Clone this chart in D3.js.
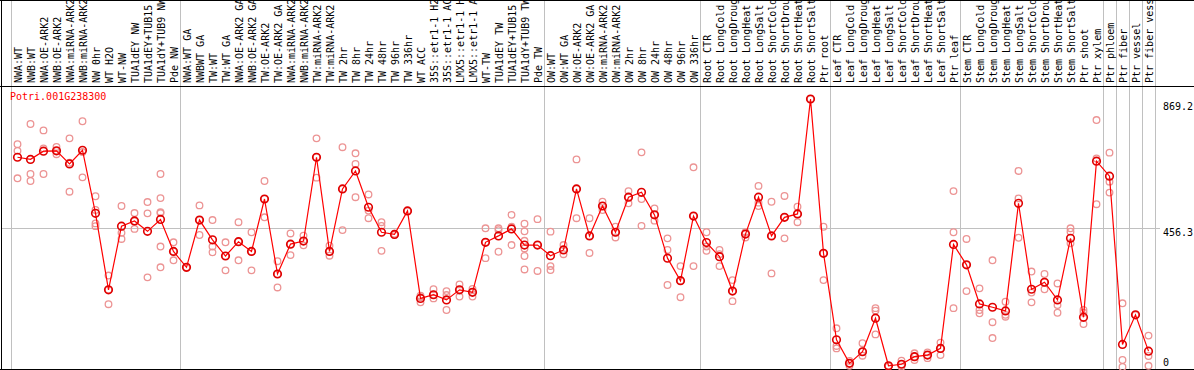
<!DOCTYPE html>
<html>
<head>
<meta charset="utf-8">
<script src="https://cdn.jsdelivr.net/npm/d3@7"></script>
<style>
html,body{margin:0;padding:0;background:#fff;}
svg{display:block;}
text{font-family:"DejaVu Sans Mono",monospace;font-size:10px;}
</style>
</head>
<body>
<svg id="chart" width="1194" height="370"></svg>
<script>
const title = "Potri.001G238300";
const categories = [
"NWA:WT","NWB:WT","NWA:OE-ARK2","NWB:OE-ARK2","NWA:miRNA-ARK2","NWB:miRNA-ARK2","NW 0hr","WT H2O","WT-NW","TUA1dEY NW","TUA1dEY+TUB15","TUA1dY+TUB9 NW","Pde NW",
"NWA:WT GA","NWBWT GA","TW:WT","TW:WT GA","NWA:OE-ARK2 GA","NWB:OE-ARK2 GA","TW:OE-ARK2","TW:OE-ARK2 GA","NWA:miRNA-ARK2 GA","NWB:miRNA-ARK2 GA","TW:miRNA-ARK2","TW:miRNA-ARK2 GA","TW 2hr","TW 8hr","TW 24hr","TW 48hr","TW 96hr","TW 336hr","WT ACC","35S::etr1-1 H2O","35S::etr1-1 ACC","LMX5::etr1-1 H2O","LMX5::etr1-1 ACC","WT-TW","TUA1dEY TW","TUA1dEY+TUB15","TUA1dY+TUB9 TW","Pde TW",
"OW:WT","OW:WT GA","OW:OE-ARK2","OW:OE-ARK2 GA","OW:miRNA-ARK2","OW:miRNA-ARK2 GA","OW 2hr","OW 8hr","OW 24hr","OW 48hr","OW 96hr","OW 336hr",
"Root CTR","Root LongCold","Root LongDrought","Root LongHeat","Root LongSalt","Root ShortCold","Root ShortDrought","Root ShortHeat","Root ShortSalt","Ptr root",
"Leaf CTR","Leaf LongCold","Leaf LongDrought","Leaf LongHeat","Leaf LongSalt","Leaf ShortCold","Leaf ShortDrought","Leaf ShortHeat","Leaf ShortSalt","Ptr leaf",
"Stem CTR","Stem LongCold","Stem LongDrought","Stem LongHeat","Stem LongSalt","Stem ShortCold","Stem ShortDrought","Stem ShortHeat","Stem ShortSalt","Ptr shoot","Ptr xylem",
"Ptr phloem","Ptr fiber","Ptr vessel","Ptr fiber vessel"
];
const groupSizes = [13,28,12,10,10,11,1,1,1,1];
const means = [
688,681,708,709,666,711,504,253,462,479,445,484,379,
327,482,417,364,411,379,551,305,403,413,688,379,584,643,524,442,435,512,225,237,220,253,245,409,430,453,400,400,
365,384,584,430,528,442,557,573,499,357,283,495,
408,362,249,436,557,430,491,502,879,373,
89,12,50,160,4,9,34,39,61,402,
335,207,196,184,537,255,278,220,422,163,675,
626,74,171,52
];
const replicates = [
[731,709,619],[797,633,610],[776,717,633],[722,709,698],[750,670,575],[806,705,622],[560,515,471,462],[300,253,206],[528,440,420],[505,478,453],[541,504,294],[633,554,508,505,395,327],[409,379,350],
[327,325],[530,482,433],[482,395,376],[409,364,317],[475,411,350],[442,379,317],[610,551,491],[347,305,261],[438,403,367],[431,413,399],[750,688,621],[398,379,365],[721,584,449],[701,666,557],[566,513,488],[475,463,381],[437,433],[512,512],[234,229,212],[255,237,225],[249,236,187],[271,253,231],[256,245,231],[455,409,357],[455,449,378],[499,460,400],[470,445,414,389,364,320],[485,400,315],
[444,331,318],[400,384,370],[681,584,488],[488,430,374],[542,528,515],[460,442,425],[577,557,537],[704,551,463],[520,499,480],[422,384,269],[331,283,229],[655,495,331],
[442,395,381],[384,370,331],[285,249,216],[442,436,425],[594,539,528],[542,430,307],[561,491,422],[526,502,475],[879,879],[460,373,285],
[127,69,61],[12,4,20],[78,50,37],[193,185,107],[4,2],[21,9,1],[45,34,23],[48,39,29],[80,61,39],[577,442,193],
[420,335,249],[258,187,176],[350,147,95],[214,171,165],[643,553,424],[313,244,212],[305,278,255],[274,203,178],[455,444,406],[187,178,141],[810,684,534],
[703,608,572],[209,23,0],[171,171],[103,36,4]
];
const yTicks = [0, 456.3, 869.2];

const svg = d3.select("#chart");
const W = 1194, H = 370;
const plotLeft = 11, plotRight = 1155, labelBottom = 86, plotBottom = 369;

const x = d3.scaleBand().domain(d3.range(categories.length)).range([plotLeft, plotRight]).padding(0);
const y = d3.scaleLinear().domain([0, 869.2]).range([367, 102]);
const cx = i => x(i) + x.bandwidth() / 2;

// group boundaries
const bounds = [0];
groupSizes.reduce((acc, s) => { bounds.push(acc + s); return acc + s; }, 0);
const boundX = bounds.map(b => b < categories.length ? x(b) : x(categories.length - 1) + x.bandwidth());

// vertical gridlines
svg.append("g").selectAll("line").data(boundX).join("line")
  .attr("x1", d => Math.round(d) + 0.5).attr("x2", d => Math.round(d) + 0.5)
  .attr("y1", 0).attr("y2", plotBottom)
  .attr("stroke", "#c0c0c0").attr("stroke-width", 1);

// horizontal gridline at middle tick
svg.append("line")
  .attr("x1", 2).attr("x2", 1160)
  .attr("y1", Math.round(y(yTicks[1])) + 0.5).attr("y2", Math.round(y(yTicks[1])) + 0.5)
  .attr("stroke", "#c0c0c0").attr("stroke-width", 1);

// frame lines
svg.append("line").attr("x1", 0).attr("x2", W).attr("y1", 0.5).attr("y2", 0.5).attr("stroke", "#000");
svg.append("line").attr("x1", 0).attr("x2", W).attr("y1", labelBottom + 0.5).attr("y2", labelBottom + 0.5).attr("stroke", "#000");
svg.append("line").attr("x1", 0).attr("x2", W).attr("y1", plotBottom + 0.5).attr("y2", plotBottom + 0.5).attr("stroke", "#000");
svg.append("line").attr("x1", 1.5).attr("x2", 1.5).attr("y1", 0).attr("y2", H).attr("stroke", "#000");

// category labels
svg.append("g").selectAll("text").data(categories).join("text")
  .attr("transform", (d, i) => `translate(${cx(i) + 4.5},83) rotate(-90)`)
  .attr("text-anchor", "start")
  .attr("fill", "#000")
  .text(d => d);

// title
svg.append("text").attr("x", 10).attr("y", 100).attr("fill", "#ff0000").text(title);

// y tick labels
svg.append("g").selectAll("text").data(yTicks).join("text")
  .attr("x", 1163)
  .attr("y", d => d === 0 ? y(d) - 1 : y(d) + 8)
  .attr("fill", "#000")
  .text(d => d === 0 ? "0" : d.toFixed(1));

// replicate points
const reps = [];
replicates.forEach((arr, i) => arr.forEach(v => reps.push({i, v})));
svg.append("g").selectAll("circle").data(reps).join("circle")
  .attr("cx", d => cx(d.i)).attr("cy", d => y(d.v)).attr("r", 3.3)
  .attr("fill", "none").attr("stroke", "#ec9494").attr("stroke-width", 1.3);

// mean line
const line = d3.line().x((d, i) => cx(i)).y(d => y(d));
svg.append("path").datum(means).attr("d", line)
  .attr("fill", "none").attr("stroke", "#ff0000").attr("stroke-width", 1.2);

// mean points
svg.append("g").selectAll("circle").data(means).join("circle")
  .attr("cx", (d, i) => cx(i)).attr("cy", d => y(d)).attr("r", 3.8)
  .attr("fill", "none").attr("stroke", "#e00000").attr("stroke-width", 1.6);
</script>
</body>
</html>
